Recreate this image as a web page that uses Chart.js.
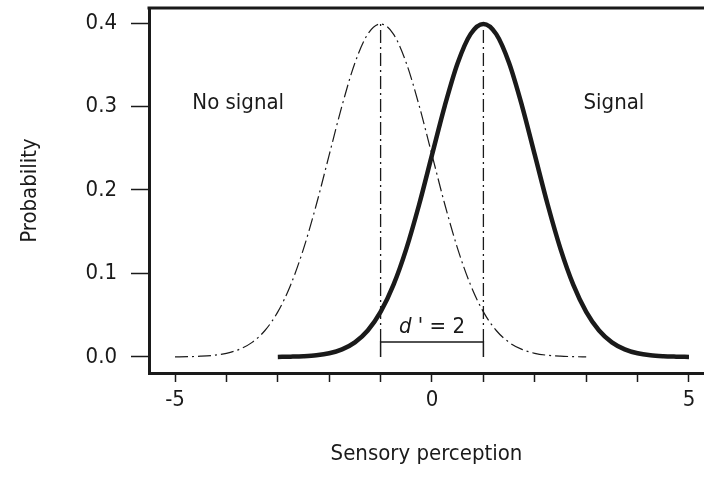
<!DOCTYPE html>
<html>
<head>
<meta charset="utf-8">
<script src="https://cdn.jsdelivr.net/npm/chart.js@4.4.0/dist/chart.umd.min.js"></script>
<style>
  html, body { margin: 0; padding: 0; background: #fff; }
  #wrap { width: 704px; height: 496px; }
</style>
</head>
<body>
<div id="wrap"><canvas id="chart" width="704" height="496"></canvas></div>
<script>
// ============================================================
// Data
// ============================================================

// "No signal" curve (thin dash-dot), centred on -1
const NOISE_X = [-5, -4.75, -4.5, -4.25, -4, -3.75, -3.5, -3.25, -3, -2.75, -2.5, -2.25, -2,
                 -1.75, -1.5, -1.25, -1, -0.75, -0.5, -0.25, 0, 0.25, 0.5, 0.75, 1,
                 1.25, 1.5, 1.75, 2, 2.25, 2.5, 2.75, 3];
const NOISE_Y = [0.0001, 0.0004, 0.0009, 0.0020, 0.0044, 0.0091, 0.0175, 0.0317, 0.0540,
                 0.0863, 0.1295, 0.1826, 0.2420, 0.3011, 0.3521, 0.3867, 0.3989, 0.3867,
                 0.3521, 0.3011, 0.2420, 0.1826, 0.1295, 0.0863, 0.0540, 0.0317, 0.0175,
                 0.0091, 0.0044, 0.0020, 0.0009, 0.0004, 0.0001];

// "Signal" curve (thick solid), centred on +1
const SIGNAL_X = [-3, -2.75, -2.5, -2.25, -2, -1.75, -1.5, -1.25, -1, -0.75, -0.5, -0.25, 0,
                  0.25, 0.5, 0.75, 1, 1.25, 1.5, 1.75, 2, 2.25, 2.5, 2.75, 3,
                  3.25, 3.5, 3.75, 4, 4.25, 4.5, 4.75, 5];
const SIGNAL_Y = [0.0001, 0.0004, 0.0009, 0.0020, 0.0044, 0.0091, 0.0175, 0.0317, 0.0540,
                  0.0863, 0.1295, 0.1826, 0.2420, 0.3011, 0.3521, 0.3867, 0.3989, 0.3867,
                  0.3521, 0.3011, 0.2420, 0.1826, 0.1295, 0.0863, 0.0540, 0.0317, 0.0175,
                  0.0091, 0.0044, 0.0020, 0.0009, 0.0004, 0.0001];

const MEANS = [-1, 1];          // vertical dash-dot markers
const PEAK = 0.4;               // marker top
const BRACKET_Y = 0.018;        // height of the d' bracket

const X_TICKS = [-5, -4, -3, -2, -1, 0, 1, 2, 3, 4, 5];
const X_LABELS = [-5, 0, 5];
const Y_TICKS = [0, 0.1, 0.2, 0.3, 0.4];

const NOTES = [
    { text: 'No signal', x: -3.77, y: 0.304 },
    { text: 'Signal', x: 3.54, y: 0.304 }
];

const FONT = "'DejaVu Sans Condensed', 'Liberation Sans Narrow', sans-serif";
const FONT_SIZE = 22;
const INK = '#1a1a1a';

const toPoints = (xs, ys) => xs.map((x, i) => ({ x: x, y: ys[i] }));

// ============================================================
// Extra drawing: top frame line, notes, d' label
// ============================================================

const extrasPlugin = {
    id: 'extras',
    afterDraw(chart) {
        const ctx = chart.ctx;
        const area = chart.chartArea;
        const xs = chart.scales.x;
        const ys = chart.scales.y;

        ctx.save();
        ctx.strokeStyle = INK;
        ctx.lineWidth = 3;
        ctx.beginPath();
        ctx.moveTo(area.left - 1.5, area.top);
        ctx.lineTo(area.right, area.top);
        ctx.stroke();

        ctx.fillStyle = INK;
        ctx.font = FONT_SIZE + 'px ' + FONT;
        ctx.textAlign = 'center';
        ctx.textBaseline = 'middle';
        NOTES.forEach(n => {
            ctx.fillText(n.text, xs.getPixelForValue(n.x), ys.getPixelForValue(n.y));
        });

        // d' = 2
        const cx = xs.getPixelForValue((MEANS[0] + MEANS[1]) / 2);
        const cy = ys.getPixelForValue(BRACKET_Y) - 15;
        const italic = 'italic ' + FONT_SIZE + 'px ' + FONT;
        const plain = FONT_SIZE + 'px ' + FONT;
        ctx.font = italic;
        const w1 = ctx.measureText('d').width;
        ctx.font = plain;
        const rest = " ' = " + (MEANS[1] - MEANS[0]);
        const w2 = ctx.measureText(rest).width;
        const x0 = cx - (w1 + w2) / 2;
        ctx.textAlign = 'left';
        ctx.font = italic;
        ctx.fillText('d', x0, cy);
        ctx.font = plain;
        ctx.fillText(rest, x0 + w1, cy);
        ctx.restore();
    }
};

// ============================================================
// Chart
// ============================================================

const datasets = [
    {
        data: toPoints(NOISE_X, NOISE_Y),
        borderColor: INK,
        borderWidth: 1.2,
        borderDash: [13, 4, 2, 4],
        cubicInterpolationMode: 'monotone'
    },
    {
        data: toPoints(SIGNAL_X, SIGNAL_Y),
        borderColor: INK,
        borderWidth: 4.5,
        cubicInterpolationMode: 'monotone'
    }
];

MEANS.forEach(m => {
    datasets.push({
        data: [{ x: m, y: BRACKET_Y }, { x: m, y: PEAK }],
        borderColor: INK,
        borderWidth: 1.3,
        borderDash: [13, 4, 2, 4]
    });
});

datasets.push({
    data: [
        { x: MEANS[0], y: 0 }, { x: MEANS[0], y: BRACKET_Y },
        { x: MEANS[1], y: BRACKET_Y }, { x: MEANS[1], y: 0 }
    ],
    borderColor: INK,
    borderWidth: 1.5
});

const noPadding = s => {
    s.paddingTop = 0;
    s.paddingBottom = 0;
    s.paddingLeft = 0;
    s.paddingRight = 0;
};

new Chart(document.getElementById('chart'), {
    type: 'scatter',
    data: {
        datasets: datasets.map(d => Object.assign({ showLine: true, pointRadius: 0, fill: false }, d))
    },
    options: {
        responsive: false,
        animation: false,
        devicePixelRatio: 1,
        layout: { padding: { top: 8, right: 0, bottom: 0, left: 0 } },
        plugins: {
            legend: { display: false },
            tooltip: { enabled: false }
        },
        scales: {
            x: {
                type: 'linear',
                min: -5.506,
                max: 5.292,
                afterBuildTicks: s => { s.ticks = X_TICKS.map(v => ({ value: v })); },
                afterFit: s => { s.height = 123; noPadding(s); },
                grid: { drawOnChartArea: false, tickLength: 9, tickWidth: 1.5, tickColor: INK },
                border: { display: true, width: 3, color: INK },
                ticks: {
                    color: INK,
                    padding: 5,
                    maxRotation: 0,
                    font: { family: FONT, size: FONT_SIZE },
                    callback: v => X_LABELS.includes(v) ? String(v) : ''
                },
                title: {
                    display: true,
                    text: 'Sensory perception',
                    color: INK,
                    font: { family: FONT, size: FONT_SIZE },
                    padding: { top: 0, bottom: 29 }
                }
            },
            y: {
                min: -0.0192,
                max: 0.418,
                afterBuildTicks: s => { s.ticks = Y_TICKS.map(v => ({ value: v })); },
                afterFit: s => { s.width = 149; noPadding(s); },
                grid: { drawOnChartArea: false, tickLength: 18, tickWidth: 1.5, tickColor: INK },
                border: { display: true, width: 3, color: INK },
                ticks: {
                    color: INK,
                    padding: 14,
                    font: { family: FONT, size: FONT_SIZE },
                    callback: v => v.toFixed(1)
                },
                title: {
                    display: true,
                    text: 'Probability',
                    color: INK,
                    font: { family: FONT, size: FONT_SIZE },
                    padding: { top: 17, bottom: 0 }
                }
            }
        }
    },
    plugins: [extrasPlugin]
});
</script>
</body>
</html>
